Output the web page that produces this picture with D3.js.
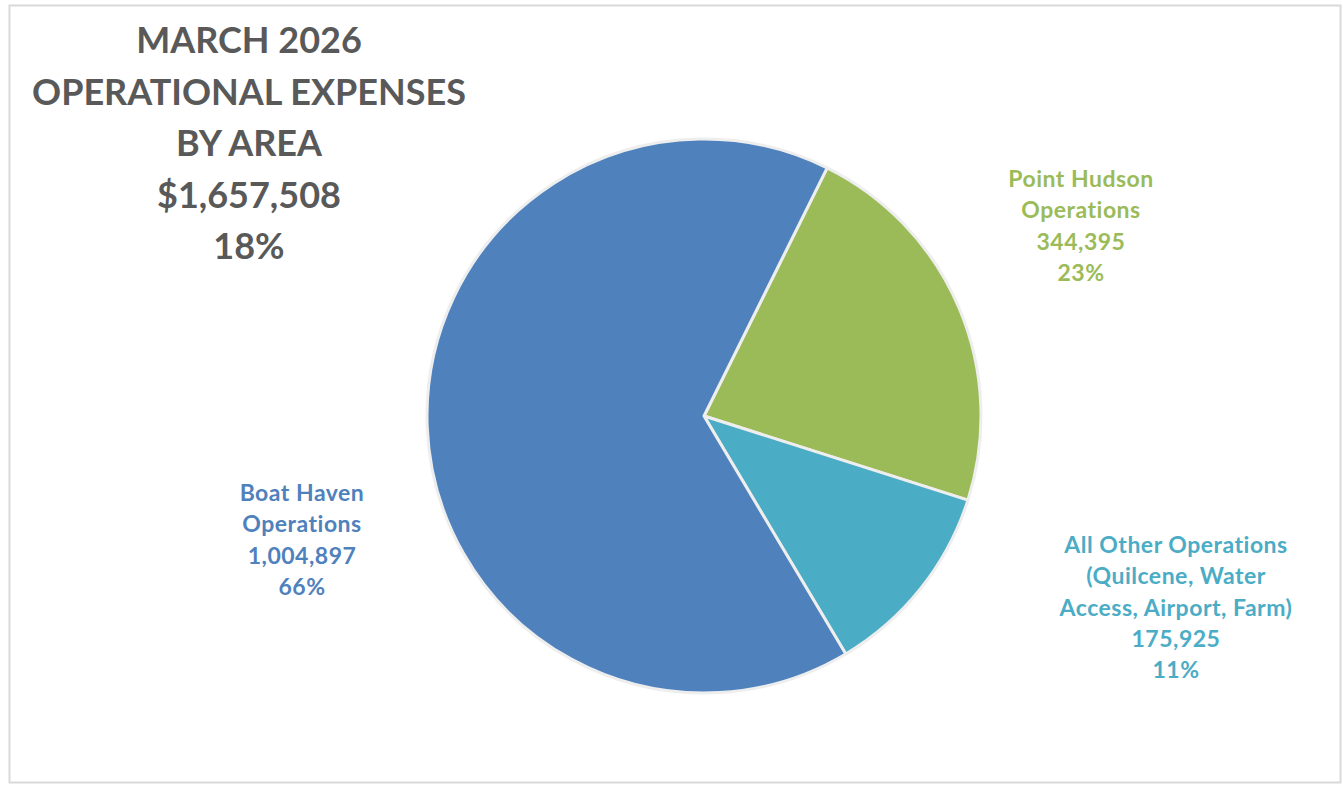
<!DOCTYPE html>
<html><head><meta charset="utf-8">
<script src="https://cdn.jsdelivr.net/npm/d3@7"></script>
<style>html,body{margin:0;padding:0;background:#fff;}svg{display:block;}</style>
</head><body>
<svg id="chart" width="1343" height="787"></svg>
<script>
const categories = ["Point Hudson Operations", "All Other Operations (Quilcene, Water Access, Airport, Farm)", "Boat Haven Operations"];
const values = [344395, 175925, 1004897];
const percentLabels = ["23%", "11%", "66%"];
const labelLines = [["Point Hudson", "Operations"], ["All Other Operations", "(Quilcene, Water", "Access, Airport, Farm)"], ["Boat Haven", "Operations"]];
const colors = ["#9BBB59", "#4BACC6", "#4F81BD"];
const titleLines = ["MARCH 2026", "OPERATIONAL EXPENSES", "BY AREA", "$1,657,508", "18%"];

const svg = d3.select("#chart");
svg.append("rect").attr("x", 9.5).attr("y", 5.5).attr("width", 1331).attr("height", 777)
  .attr("fill", "#fff").attr("stroke", "#d9d9d9").attr("stroke-width", 2);

const cx = 704, cy = 416, r = 277;
const start = 26.4 * Math.PI / 180;
const pie = d3.pie().sort(null).value(d => d).startAngle(start).endAngle(start + 2 * Math.PI);
const arcs = pie(values);
const arc = d3.arc().innerRadius(0).outerRadius(r);
const g = svg.append("g").attr("transform", `translate(${cx},${cy})`);
g.selectAll("path").data(arcs).join("path")
  .attr("d", arc).attr("fill", (d, i) => colors[i])
  .attr("stroke", "#eeeeee").attr("stroke-width", 3).attr("stroke-linejoin", "round");

const fmt = d3.format(",");
const labelPos = [[1081, 179], [1176, 545], [302, 493]];
const lh = 31.3;
arcs.forEach((d, i) => {
  const lines = labelLines[i].concat([fmt(values[i]), percentLabels[i]]);
  const t = svg.append("text").attr("text-anchor", "middle")
    .attr("font-family", "Lato, 'Open Sans', sans-serif").attr("font-weight", "bold")
    .attr("font-size", 23).attr("letter-spacing", 0.5).attr("fill", colors[i]);
  lines.forEach((l, j) => {
    t.append("tspan").attr("x", labelPos[i][0]).attr("y", labelPos[i][1] + j * lh + 8).text(l);
  });
});

const tt = svg.append("text").attr("text-anchor", "middle")
  .attr("font-family", "Lato, 'Open Sans', sans-serif").attr("font-weight", "bold")
  .attr("font-size", 36).attr("fill", "#595959");
titleLines.forEach((l, j) => {
  tt.append("tspan").attr("x", 249).attr("y", 53 + j * 51.6).text(l);
});
</script>
</body></html>
